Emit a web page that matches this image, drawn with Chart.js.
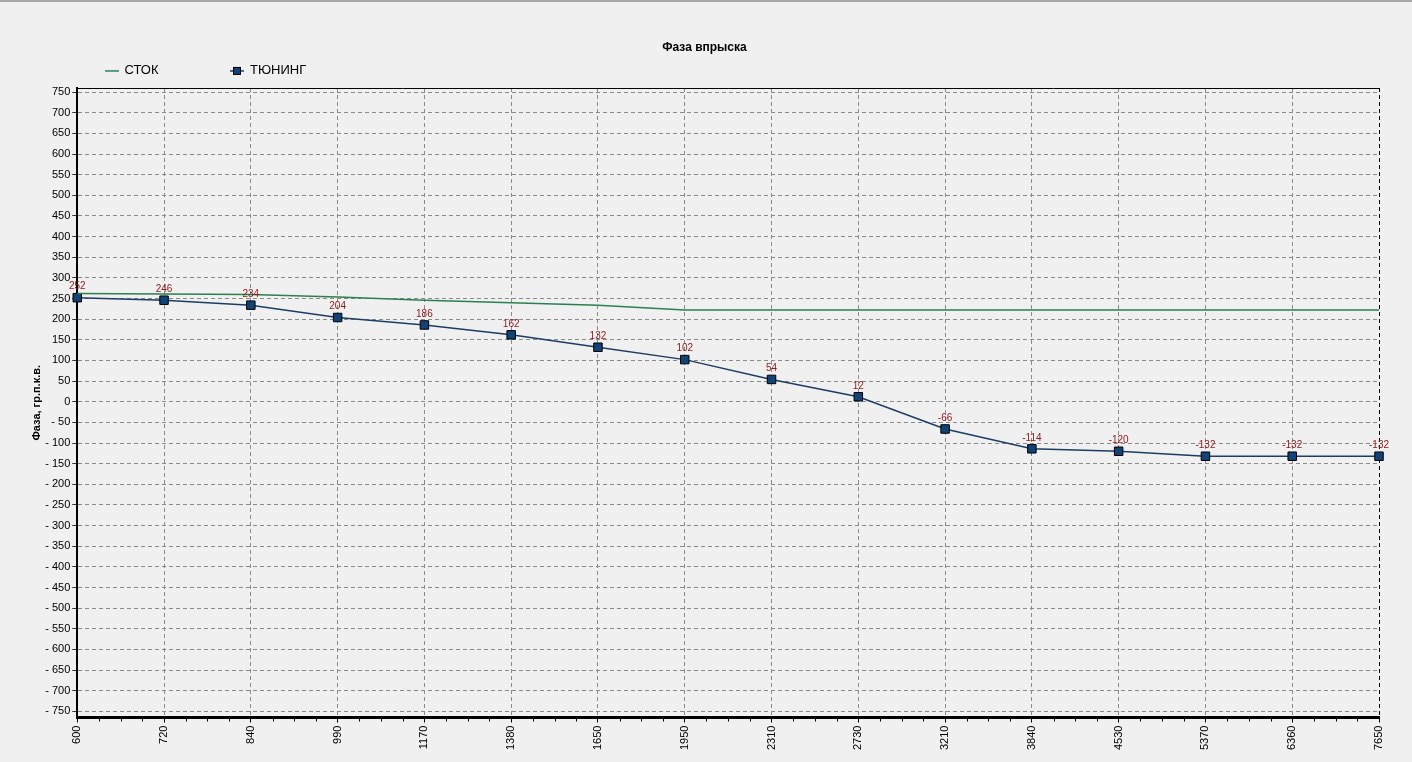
<!DOCTYPE html>
<html>
<head>
<meta charset="utf-8">
<script src="https://cdn.jsdelivr.net/npm/chart.js@4.4.1/dist/chart.umd.min.js"></script>
<style>
  html, body { margin: 0; padding: 0; background: #f0f0f0; }
  #wrap { position: relative; width: 1412px; height: 762px; }
  #frame { position: absolute; left: 0; top: 0; width: 1412px; height: 2px; background: #a8a8a8; }
</style>
</head>
<body>
<div id="wrap">
  <canvas id="graph" width="1412" height="762"></canvas>
  <div id="frame"></div>
</div>
<script>
const rpm = ['600', '720', '840', '990', '1170', '1380', '1650', '1950', '2310', '2730', '3210', '3840', '4530', '5370', '6360', '7650'];
const stock = [262, 261, 260, 254, 246, 240, 234, 222, 222, 222, 222, 222, 222, 222, 222, 222];
const tuning = [252, 246, 234, 204, 186, 162, 132, 102, 54, 12, -66, -114, -120, -132, -132, -132];
const yTicks = [750, 700, 650, 600, 550, 500, 450, 400, 350, 300, 250, 200, 150, 100, 50, 0,
    -50, -100, -150, -200, -250, -300, -350, -400, -450, -500, -550, -600, -650, -700, -750];

const stockColor = '#2a8050';
const tuneLine = '#1d3d62';
const tuneFill = '#114377';
const legendGap = 72;

// little legend symbols
function legendIcon(kind) {
    const c = document.createElement('canvas');
    c.width = 14; c.height = 10;
    const g = c.getContext('2d');
    if (kind === 'line') {
        g.strokeStyle = stockColor; g.lineWidth = 1.5;
        g.beginPath(); g.moveTo(0, 5); g.lineTo(14, 5); g.stroke();
    } else {
        g.strokeStyle = tuneLine; g.lineWidth = 1.5;
        g.beginPath(); g.moveTo(0, 5); g.lineTo(14, 5); g.stroke();
        g.fillStyle = tuneFill; g.fillRect(3.5, 1.5, 7, 7);
        g.strokeStyle = '#000'; g.lineWidth = 1; g.strokeRect(3.5, 1.5, 7, 7);
    }
    return c;
}
const icons = [legendIcon('line'), legendIcon('box')];

const extras = {
    id: 'extras',
    afterInit(chart) {
        // wide gap between legend items, but keep the legend row short
        const lg = chart.legend;
        const fit = lg.fit;
        lg.fit = function () { fit.call(this); this.height = 33.6; };
    },
    afterLayout(chart) {
        const lg = chart.legend;
        lg.left += 3;
        lg.top += 10 - legendGap;
    },
    afterDatasetsDraw(chart) {
        const ctx = chart.ctx;
        const meta = chart.getDatasetMeta(1);
        ctx.save();
        ctx.font = '10px "Liberation Sans", Arial, sans-serif';
        ctx.fillStyle = '#8b1a1a';
        ctx.textAlign = 'center';
        ctx.textBaseline = 'middle';
        meta.data.forEach((pt, i) => {
            ctx.fillText(String(tuning[i]), pt.x, pt.y - 11);
        });
        ctx.restore();
    },
    afterDraw(chart) {
        const ctx = chart.ctx;
        const a = chart.chartArea;
        const xs = chart.scales.x;
        ctx.save();
        ctx.strokeStyle = '#000';
        ctx.lineWidth = 1;
        ctx.beginPath();
        ctx.moveTo(a.left, a.top + 0.5);
        ctx.lineTo(a.right, a.top + 0.5);
        // minor ticks under the x axis
        for (let i = 0; i < rpm.length - 1; i++) {
            for (let q = 1; q < 4; q++) {
                const px = Math.round(xs.getPixelForValue(i + q / 4)) + 0.5;
                ctx.moveTo(px, a.bottom + 1);
                ctx.lineTo(px, a.bottom + 4);
            }
        }
        ctx.stroke();
        ctx.restore();
    }
};

const ctx = document.getElementById('graph').getContext('2d');
const graph = new Chart(ctx, {
    type: 'line',
    data: {
        labels: rpm,
        datasets: [
            {
                label: 'СТОК',
                data: stock,
                borderColor: stockColor,
                borderWidth: 1.5,
                pointRadius: 0,
                tension: 0,
                fill: false
            },
            {
                label: 'ТЮНИНГ',
                data: tuning,
                borderColor: tuneLine,
                borderWidth: 1.5,
                pointStyle: 'rect',
                pointRadius: 6,
                pointBackgroundColor: tuneFill,
                pointBorderColor: '#000',
                pointBorderWidth: 1,
                tension: 0,
                fill: false
            }
        ]
    },
    options: {
        responsive: false,
        animation: false,
        layout: { padding: { left: 30, right: 33, top: 0, bottom: 9 } },
        plugins: {
            title: {
                display: true,
                text: 'Фаза впрыска',
                color: '#000',
                font: { family: '"Liberation Sans", Arial, sans-serif', size: 12, weight: 'bold' },
                padding: { top: 40, bottom: 0 }
            },
            legend: {
                position: 'top',
                align: 'start',
                labels: {
                    color: '#000',
                    font: { family: '"Liberation Sans", Arial, sans-serif', size: 13 },
                    usePointStyle: true,
                    padding: legendGap,
                    generateLabels(chart) {
                        const items = Chart.defaults.plugins.legend.labels.generateLabels(chart);
                        items.forEach((it, i) => { it.pointStyle = icons[i]; });
                        return items;
                    }
                }
            },
            tooltip: { enabled: false }
        },
        scales: {
            x: {
                type: 'category',
                offset: false,
                grid: {
                    offset: false,
                    color: c => c.index === rpm.length - 1 ? '#000' : '#8a8a8a',
                    tickColor: '#000',
                    tickLength: 5,
                    lineWidth: 1
                },
                border: { display: true, color: '#000', width: 3, dash: [4, 3] },
                ticks: {
                    autoSkip: false,
                    maxRotation: 90,
                    minRotation: 90,
                    padding: 3,
                    color: '#000',
                    font: { family: '"Liberation Sans", Arial, sans-serif', size: 11 }
                }
            },
            y: {
                min: -765,
                max: 760,
                afterBuildTicks: scale => {
                    scale.ticks = yTicks.map(v => ({ value: v }));
                },
                grid: {
                    color: '#8a8a8a',
                    tickColor: '#333',
                    tickLength: 5,
                    lineWidth: 1
                },
                border: { display: true, color: '#000', width: 2, dash: [4, 3] },
                ticks: {
                    padding: 2,
                    color: '#000',
                    font: { family: '"Liberation Sans", Arial, sans-serif', size: 11 },
                    callback: v => v < 0 ? '- ' + Math.abs(v) : String(v)
                },
                title: {
                    display: true,
                    text: 'Фаза, гр.п.к.в.',
                    color: '#000',
                    font: { family: '"Liberation Sans", Arial, sans-serif', size: 11, weight: 'bold' },
                    padding: { top: 0, bottom: 0 }
                }
            }
        }
    },
    plugins: [extras]
});
</script>
</body>
</html>
